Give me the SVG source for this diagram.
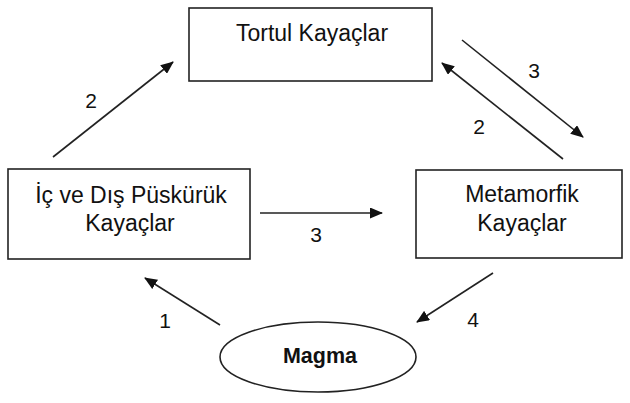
<svg xmlns="http://www.w3.org/2000/svg" width="630" height="403" viewBox="0 0 630 403">
<style>
.box{fill:#fff;stroke:#222;stroke-width:1.6}
.t{font-family:"Liberation Sans",Arial,sans-serif;font-size:23px;fill:#111;text-anchor:middle}
.n{font-size:21px}
.b{font-weight:bold;font-size:21.5px}
.c{stroke:#222;stroke-width:1.6;fill:none;marker-end:url(#ah)}
</style>
<defs>
<marker id="ah" viewBox="0 0 13 11" refX="12" refY="5.5" markerWidth="13" markerHeight="11" markerUnits="userSpaceOnUse" orient="auto">
<path d="M0,0 L13,5.5 L0,11 Z" fill="#111"/>
</marker>
</defs>
<rect width="630" height="403" fill="#fff"/>
<g id="tortul">
<rect class="box" x="189" y="8" width="243" height="73"/>
<text class="t" x="312" y="41">Tortul Kayaçlar</text>
</g>
<g id="puskuruk">
<rect class="box" x="8" y="169" width="242" height="90"/>
<text class="t" x="131" y="203">İç ve Dış Püskürük</text>
<text class="t" x="130" y="231">Kayaçlar</text>
</g>
<g id="metamorfik">
<rect class="box" x="416" y="170" width="206" height="88"/>
<text class="t" x="522" y="202">Metamorfik</text>
<text class="t" x="522" y="231">Kayaçlar</text>
</g>
<g id="magma">
<ellipse class="box" cx="318" cy="357" rx="98" ry="35"/>
<text class="t b" x="320" y="363">Magma</text>
</g>
<g id="connectors">
<line class="c" x1="53" y1="157" x2="173" y2="62"/>
<line class="c" x1="462" y1="40" x2="583" y2="137"/>
<line class="c" x1="563" y1="159" x2="442" y2="63"/>
<line class="c" x1="260" y1="213" x2="382" y2="213"/>
<line class="c" x1="220" y1="325" x2="145" y2="278"/>
<line class="c" x1="493" y1="273" x2="417" y2="322"/>
<text class="t n" x="91" y="108">2</text>
<text class="t n" x="534" y="78">3</text>
<text class="t n" x="479" y="134">2</text>
<text class="t n" x="316" y="242">3</text>
<text class="t n" x="165" y="328">1</text>
<text class="t n" x="473" y="327">4</text>
</g>
</svg>
